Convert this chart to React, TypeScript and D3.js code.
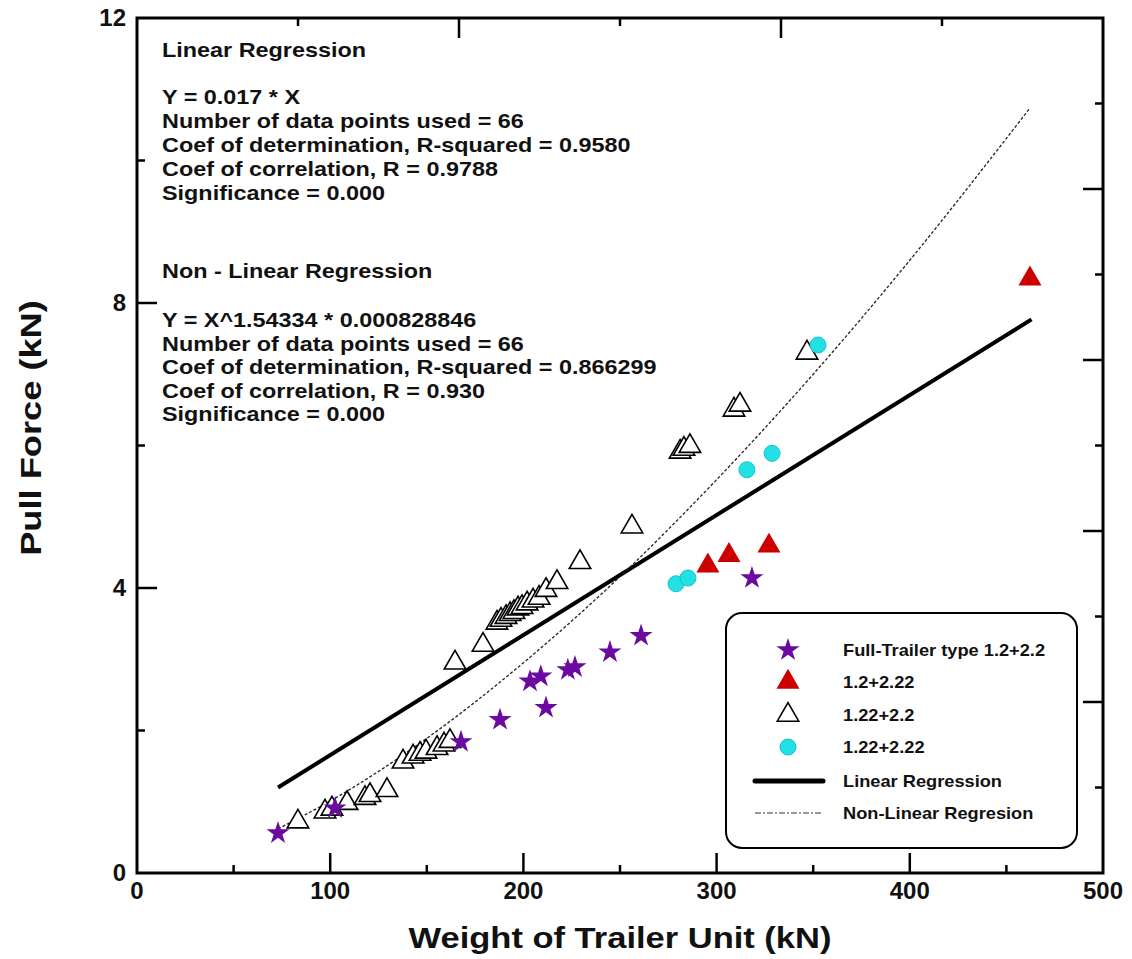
import React from "react";
import * as d3 from "d3";

const W = 1132;
const H = 959;

const X_TICKS = [0, 100, 200, 300, 400, 500];
const Y_TICKS = [0, 4, 8, 12];

// [weight kN, pull force kN]
const fullTrailer = [
  [73, 0.56], [102.5, 0.91], [167.7, 1.84], [187.9, 2.15], [211.7, 2.32], [203.4, 2.69],
  [209, 2.76], [223, 2.85], [226.7, 2.89], [244.8, 3.1], [260.9, 3.33], [318.3, 4.14],
];
const type12_222 = [[295.5, 4.31], [306.4, 4.46], [327.1, 4.59], [462.2, 8.34]];
const type122_222 = [[279, 4.06], [285.2, 4.14], [315.7, 5.66], [328.7, 5.89], [352.5, 7.41]];
const type122_22 = [
  [83.3, 0.72], [97.3, 0.86], [100.9, 0.9], [108.7, 0.98], [118, 1.05], [120.6, 1.09],
  [129.4, 1.16], [137.7, 1.56], [142.9, 1.63], [146.5, 1.67], [149.6, 1.7], [155.3, 1.75],
  [158.9, 1.8], [162, 1.85], [164.6, 2.95], [179.1, 3.2], [186.3, 3.51], [188.4, 3.55],
  [191, 3.59], [193.1, 3.63], [195.1, 3.66], [197.2, 3.71], [199.3, 3.73], [201.9, 3.78],
  [205, 3.82], [208.1, 3.86], [211.7, 3.97], [217.4, 4.08], [229.3, 4.36], [256.2, 4.86],
  [281.1, 5.91], [283.1, 5.95], [286.2, 5.99], [309, 6.5], [312.1, 6.57], [346.8, 7.3],
];

// regression lines
const linearFit = [[73, 1.2], [463, 7.77]];
const nonLinearFit = [
  [73, 0.62], [100, 1.01], [150, 1.89], [200, 2.95], [250, 4.16],
  [300, 5.52], [350, 7.0], [400, 8.6], [462, 10.73],
];

const linearText = [
  "Y = 0.017 * X",
  "Number of data points used = 66",
  "Coef of determination, R-squared = 0.9580",
  "Coef of correlation, R = 0.9788",
  "Significance = 0.000",
];
const nonLinearText = [
  "Y = X^1.54334 * 0.000828846",
  "Number of data points used = 66",
  "Coef of determination, R-squared = 0.866299",
  "Coef of correlation, R = 0.930",
  "Significance = 0.000",
];
const legendLabels = [
  "Full-Trailer type 1.2+2.2",
  "1.2+2.22",
  "1.22+2.2",
  "1.22+2.22",
  "Linear Regression",
  "Non-Linear Regresion",
];

const FONT = "'Liberation Sans', Arial, sans-serif";
const PURPLE = "#6a0aa0";
const RED = "#cc0000";
const CYAN = "#22e0e4";

const App = () => {
  const x = d3.scaleLinear().domain([0, 500]).range([137, 1103]);
  const y = d3.scaleLinear().domain([0, 12]).range([873, 18]);

  const star = d3.symbol().type(d3.symbolStar).size(165)() as string;
  const tri = d3.symbol().type(d3.symbolTriangle).size(200)() as string;
  const triRed = d3.symbol().type(d3.symbolTriangle).size(230)() as string;

  const line = d3.line<number[]>().x((d) => x(d[0])).y((d) => y(d[1]));
  const curve = d3.line<number[]>().x((d) => x(d[0])).y((d) => y(d[1])).curve(d3.curveMonotoneX);

  const bottomTicks = d3.range(50, 500, 50);
  const topTicks = d3.range(1, 6).map((k) => (k * 500) / 6);
  const leftTicks = d3.range(2, 12, 2);
  const rightTicks = d3.range(1, 10).map((k) => k * 1.2);

  const [x0, x1] = x.range();
  const [y0, y1] = y.range();

  const legendX = 788;
  const legendRows = [650, 682, 715, 747, 781, 813];

  return (
    <svg width={W} height={H} style={{ position: "absolute", left: 0, top: 0, background: "#fff" }} fontFamily={FONT}>
      {/* regression lines */}
      <path d={line(linearFit) || ""} fill="none" stroke="#000" strokeWidth={4} />
      <path d={curve(nonLinearFit) || ""} fill="none" stroke="#222" strokeWidth={1.3} strokeDasharray="3,2" />

      {/* points */}
      {type122_22.map((d, i) => (
        <path key={"o" + i} d={tri} transform={`translate(${x(d[0])},${y(d[1])})`} fill="#fff" stroke="#000" strokeWidth={1.6} />
      ))}
      {fullTrailer.map((d, i) => (
        <path key={"s" + i} d={star} transform={`translate(${x(d[0])},${y(d[1])})`} fill={PURPLE} />
      ))}
      {type12_222.map((d, i) => (
        <path key={"r" + i} d={triRed} transform={`translate(${x(d[0])},${y(d[1])})`} fill={RED} />
      ))}
      {type122_222.map((d, i) => (
        <circle key={"c" + i} cx={x(d[0])} cy={y(d[1])} r={8} fill={CYAN} stroke="#16c4cc" strokeWidth={1} />
      ))}

      {/* frame + ticks */}
      <rect x={x0} y={y1} width={x1 - x0} height={y0 - y1} fill="none" stroke="#000" strokeWidth={3} />
      {bottomTicks.map((t) => (
        <line key={"b" + t} x1={x(t)} x2={x(t)} y1={y0} y2={y0 - (t % 100 === 0 ? 20 : 8)} stroke="#000" strokeWidth={2.5} />
      ))}
      {topTicks.map((t, i) => (
        <line key={"t" + i} x1={x(t)} x2={x(t)} y1={y1} y2={y1 + (i % 2 === 1 ? 20 : 8)} stroke="#000" strokeWidth={2.5} />
      ))}
      {leftTicks.map((t) => (
        <line key={"l" + t} x1={x0} x2={x0 + (t % 4 === 0 ? 20 : 8)} y1={y(t)} y2={y(t)} stroke="#000" strokeWidth={2.5} />
      ))}
      {rightTicks.map((t, i) => (
        <line key={"r" + i} x1={x1} x2={x1 - (i % 2 === 1 ? 20 : 8)} y1={y(t)} y2={y(t)} stroke="#000" strokeWidth={2.5} />
      ))}

      {/* tick labels */}
      {X_TICKS.map((t) => (
        <text key={"xl" + t} x={x(t)} y={y0 + 26} textAnchor="middle" fontSize={24} fontWeight="bold" fill="#111">
          {t}
        </text>
      ))}
      {Y_TICKS.map((t) => (
        <text key={"yl" + t} x={x0 - 11} y={y(t) + 8} textAnchor="end" fontSize={24} fontWeight="bold" fill="#111">
          {t}
        </text>
      ))}

      {/* axis titles */}
      <text transform={`translate(${(x0 + x1) / 2},948) scale(1.19,1)`} textAnchor="middle" fontSize={29} fontWeight="bold" fill="#111">
        Weight of Trailer Unit (kN)
      </text>
      <text transform={`translate(41,428) rotate(-90) scale(1.25,1)`} textAnchor="middle" fontSize={29} fontWeight="bold" fill="#111">
        Pull Force (kN)
      </text>

      {/* regression notes */}
      <g fontSize={20} fontWeight="bold" fill="#111">
        <text transform="translate(162,57) scale(1.17,1)">Linear Regression</text>
        {linearText.map((s, i) => (
          <text key={"lt" + i} transform={`translate(162,${104 + i * 24}) scale(1.17,1)`}>{s}</text>
        ))}
        <text transform="translate(162,278) scale(1.17,1)">Non - Linear Regression</text>
        {nonLinearText.map((s, i) => (
          <text key={"nt" + i} transform={`translate(162,${327 + i * 23.6}) scale(1.17,1)`}>{s}</text>
        ))}
      </g>

      {/* legend */}
      <rect x={726} y={613} width={351} height={235} rx={16} fill="#fff" stroke="#000" strokeWidth={2} />
      <path d={star} transform={`translate(${legendX},${legendRows[0]})`} fill={PURPLE} />
      <path d={triRed} transform={`translate(${legendX},${legendRows[1]})`} fill={RED} />
      <path d={tri} transform={`translate(${legendX},${legendRows[2]})`} fill="#fff" stroke="#000" strokeWidth={1.6} />
      <circle cx={legendX} cy={legendRows[3]} r={8} fill={CYAN} stroke="#16c4cc" strokeWidth={1} />
      <line x1={755} x2={823} y1={legendRows[4]} y2={legendRows[4]} stroke="#000" strokeWidth={5} strokeLinecap="round" />
      <line x1={755} x2={823} y1={legendRows[5]} y2={legendRows[5]} stroke="#333" strokeWidth={1.2} strokeDasharray="6,2,2,2" />
      <g fontSize={16} fontWeight="bold" fill="#111">
        {legendLabels.map((s, i) => (
          <text key={"lg" + i} transform={`translate(843,${legendRows[i] + 6}) scale(1.14,1)`}>{s}</text>
        ))}
      </g>
    </svg>
  );
};

export default App;
